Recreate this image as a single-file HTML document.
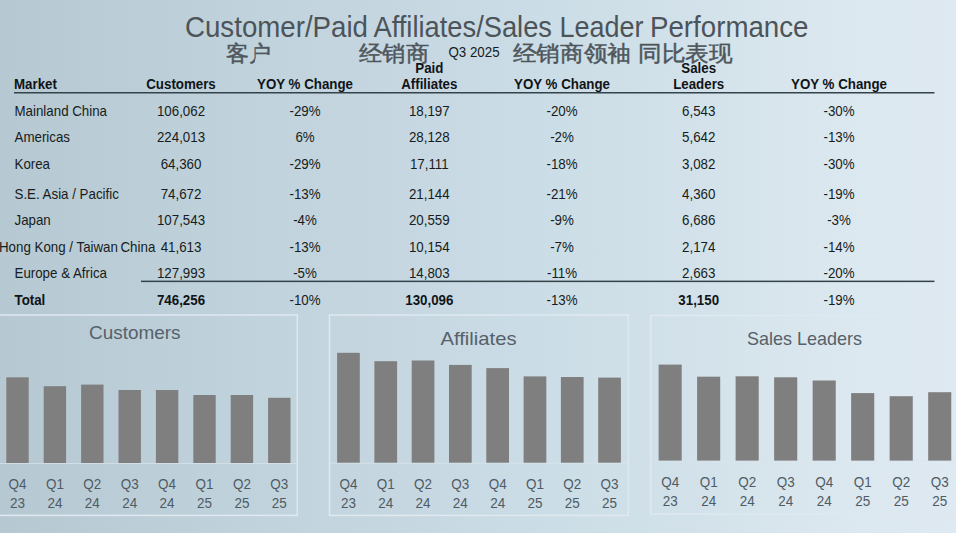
<!DOCTYPE html>
<html><head><meta charset="utf-8"><style>
html,body{margin:0;padding:0;width:956px;height:533px;overflow:hidden;}
body{background:linear-gradient(to right,#b6c8d2 0%,#bacdd6 10.5%,#c0d2dc 26%,#c6d7e1 42%,#cbdde6 57.5%,#d3e2ea 73%,#dce8f0 89%,#dee9f1 100%);}
svg{position:absolute;left:0;top:0;font-family:"Liberation Sans", sans-serif;}
</style></head><body>
<svg width="956" height="533" viewBox="0 0 956 533">
<text x="185.0" y="37" font-size="29" fill="#4c5459" textLength="183.0" lengthAdjust="spacingAndGlyphs">Customer/Paid</text>
<text x="373.5" y="37" font-size="29" fill="#4c5459" textLength="178.5" lengthAdjust="spacingAndGlyphs">Affiliates/Sales</text>
<text x="559.5" y="37" font-size="29" fill="#4c5459" textLength="84.0" lengthAdjust="spacingAndGlyphs">Leader</text>
<text x="650.0" y="37" font-size="29" fill="#4c5459" textLength="158.5" lengthAdjust="spacingAndGlyphs">Performance</text>
<text x="225.5" y="61" font-size="21.8" font-weight="500" fill="#4e565c" stroke="#4e565c" stroke-width="0.45" textLength="46" lengthAdjust="spacingAndGlyphs">客户</text>
<text x="359" y="61" font-size="21.8" font-weight="500" fill="#4e565c" stroke="#4e565c" stroke-width="0.45" textLength="70" lengthAdjust="spacingAndGlyphs">经销商</text>
<text x="0" y="0" transform="translate(448.5 56.5) scale(1 1.04)" font-size="13.33" text-anchor="start" fill="#151b20">Q3 2025</text>
<text x="512.5" y="61" font-size="21.8" font-weight="500" fill="#4e565c" stroke="#4e565c" stroke-width="0.45" textLength="118.5" lengthAdjust="spacingAndGlyphs">经销商领袖</text>
<text x="638" y="61" font-size="21.8" font-weight="500" fill="#4e565c" stroke="#4e565c" stroke-width="0.45" textLength="94.5" lengthAdjust="spacingAndGlyphs">同比表现</text>
<text x="0" y="0" transform="translate(14 89) scale(1 1.03)" font-size="13.33" text-anchor="start" font-weight="bold" fill="#111417">Market</text>
<text x="0" y="0" transform="translate(181 89) scale(1 1.03)" font-size="13.33" text-anchor="middle" font-weight="bold" fill="#111417">Customers</text>
<text x="0" y="0" transform="translate(305 89) scale(1 1.03)" font-size="13.33" text-anchor="middle" font-weight="bold" fill="#111417">YOY % Change</text>
<text x="0" y="0" transform="translate(429.3 73) scale(1 1.03)" font-size="13.33" text-anchor="middle" font-weight="bold" fill="#111417">Paid</text>
<text x="0" y="0" transform="translate(429.3 89) scale(1 1.03)" font-size="13.33" text-anchor="middle" font-weight="bold" fill="#111417">Affiliates</text>
<text x="0" y="0" transform="translate(562 89) scale(1 1.03)" font-size="13.33" text-anchor="middle" font-weight="bold" fill="#111417">YOY % Change</text>
<text x="0" y="0" transform="translate(698.7 73) scale(1 1.03)" font-size="13.33" text-anchor="middle" font-weight="bold" fill="#111417">Sales</text>
<text x="0" y="0" transform="translate(698.7 89) scale(1 1.03)" font-size="13.33" text-anchor="middle" font-weight="bold" fill="#111417">Leaders</text>
<text x="0" y="0" transform="translate(839 89) scale(1 1.03)" font-size="13.33" text-anchor="middle" font-weight="bold" fill="#111417">YOY % Change</text>
<rect x="14" y="92" width="920.5" height="1.5" fill="#34424a"/>
<text x="0" y="0" transform="translate(14.5 115.5) scale(1 1.03)" font-size="13.33" text-anchor="start" fill="#171c20">Mainland China</text>
<text x="0" y="0" transform="translate(181 115.5) scale(1 1.03)" font-size="13.33" text-anchor="middle" fill="#171c20">106,062</text>
<text x="0" y="0" transform="translate(305 115.5) scale(1 1.03)" font-size="13.33" text-anchor="middle" fill="#171c20">-29%</text>
<text x="0" y="0" transform="translate(429.3 115.5) scale(1 1.03)" font-size="13.33" text-anchor="middle" fill="#171c20">18,197</text>
<text x="0" y="0" transform="translate(562 115.5) scale(1 1.03)" font-size="13.33" text-anchor="middle" fill="#171c20">-20%</text>
<text x="0" y="0" transform="translate(698.7 115.5) scale(1 1.03)" font-size="13.33" text-anchor="middle" fill="#171c20">6,543</text>
<text x="0" y="0" transform="translate(839 115.5) scale(1 1.03)" font-size="13.33" text-anchor="middle" fill="#171c20">-30%</text>
<text x="0" y="0" transform="translate(14.5 142.3) scale(1 1.03)" font-size="13.33" text-anchor="start" fill="#171c20">Americas</text>
<text x="0" y="0" transform="translate(181 142.3) scale(1 1.03)" font-size="13.33" text-anchor="middle" fill="#171c20">224,013</text>
<text x="0" y="0" transform="translate(305 142.3) scale(1 1.03)" font-size="13.33" text-anchor="middle" fill="#171c20">6%</text>
<text x="0" y="0" transform="translate(429.3 142.3) scale(1 1.03)" font-size="13.33" text-anchor="middle" fill="#171c20">28,128</text>
<text x="0" y="0" transform="translate(562 142.3) scale(1 1.03)" font-size="13.33" text-anchor="middle" fill="#171c20">-2%</text>
<text x="0" y="0" transform="translate(698.7 142.3) scale(1 1.03)" font-size="13.33" text-anchor="middle" fill="#171c20">5,642</text>
<text x="0" y="0" transform="translate(839 142.3) scale(1 1.03)" font-size="13.33" text-anchor="middle" fill="#171c20">-13%</text>
<text x="0" y="0" transform="translate(14.5 168.6) scale(1 1.03)" font-size="13.33" text-anchor="start" fill="#171c20">Korea</text>
<text x="0" y="0" transform="translate(181 168.6) scale(1 1.03)" font-size="13.33" text-anchor="middle" fill="#171c20">64,360</text>
<text x="0" y="0" transform="translate(305 168.6) scale(1 1.03)" font-size="13.33" text-anchor="middle" fill="#171c20">-29%</text>
<text x="0" y="0" transform="translate(429.3 168.6) scale(1 1.03)" font-size="13.33" text-anchor="middle" fill="#171c20">17,111</text>
<text x="0" y="0" transform="translate(562 168.6) scale(1 1.03)" font-size="13.33" text-anchor="middle" fill="#171c20">-18%</text>
<text x="0" y="0" transform="translate(698.7 168.6) scale(1 1.03)" font-size="13.33" text-anchor="middle" fill="#171c20">3,082</text>
<text x="0" y="0" transform="translate(839 168.6) scale(1 1.03)" font-size="13.33" text-anchor="middle" fill="#171c20">-30%</text>
<text x="0" y="0" transform="translate(14.5 198.7) scale(1 1.03)" font-size="13.33" text-anchor="start" fill="#171c20">S.E. Asia / Pacific</text>
<text x="0" y="0" transform="translate(181 198.7) scale(1 1.03)" font-size="13.33" text-anchor="middle" fill="#171c20">74,672</text>
<text x="0" y="0" transform="translate(305 198.7) scale(1 1.03)" font-size="13.33" text-anchor="middle" fill="#171c20">-13%</text>
<text x="0" y="0" transform="translate(429.3 198.7) scale(1 1.03)" font-size="13.33" text-anchor="middle" fill="#171c20">21,144</text>
<text x="0" y="0" transform="translate(562 198.7) scale(1 1.03)" font-size="13.33" text-anchor="middle" fill="#171c20">-21%</text>
<text x="0" y="0" transform="translate(698.7 198.7) scale(1 1.03)" font-size="13.33" text-anchor="middle" fill="#171c20">4,360</text>
<text x="0" y="0" transform="translate(839 198.7) scale(1 1.03)" font-size="13.33" text-anchor="middle" fill="#171c20">-19%</text>
<text x="0" y="0" transform="translate(14.5 225.4) scale(1 1.03)" font-size="13.33" text-anchor="start" fill="#171c20">Japan</text>
<text x="0" y="0" transform="translate(181 225.4) scale(1 1.03)" font-size="13.33" text-anchor="middle" fill="#171c20">107,543</text>
<text x="0" y="0" transform="translate(305 225.4) scale(1 1.03)" font-size="13.33" text-anchor="middle" fill="#171c20">-4%</text>
<text x="0" y="0" transform="translate(429.3 225.4) scale(1 1.03)" font-size="13.33" text-anchor="middle" fill="#171c20">20,559</text>
<text x="0" y="0" transform="translate(562 225.4) scale(1 1.03)" font-size="13.33" text-anchor="middle" fill="#171c20">-9%</text>
<text x="0" y="0" transform="translate(698.7 225.4) scale(1 1.03)" font-size="13.33" text-anchor="middle" fill="#171c20">6,686</text>
<text x="0" y="0" transform="translate(839 225.4) scale(1 1.03)" font-size="13.33" text-anchor="middle" fill="#171c20">-3%</text>
<text x="0" y="0" transform="translate(-1 251.5) scale(1 1.03)" font-size="13.33" text-anchor="start" fill="#171c20">Hong Kong / Taiwan</text>
<text x="0" y="0" transform="translate(120.5 251.5) scale(1 1.03)" font-size="13.33" text-anchor="start" fill="#171c20">China</text>
<text x="0" y="0" transform="translate(181 251.5) scale(1 1.03)" font-size="13.33" text-anchor="middle" fill="#171c20">41,613</text>
<text x="0" y="0" transform="translate(305 251.5) scale(1 1.03)" font-size="13.33" text-anchor="middle" fill="#171c20">-13%</text>
<text x="0" y="0" transform="translate(429.3 251.5) scale(1 1.03)" font-size="13.33" text-anchor="middle" fill="#171c20">10,154</text>
<text x="0" y="0" transform="translate(562 251.5) scale(1 1.03)" font-size="13.33" text-anchor="middle" fill="#171c20">-7%</text>
<text x="0" y="0" transform="translate(698.7 251.5) scale(1 1.03)" font-size="13.33" text-anchor="middle" fill="#171c20">2,174</text>
<text x="0" y="0" transform="translate(839 251.5) scale(1 1.03)" font-size="13.33" text-anchor="middle" fill="#171c20">-14%</text>
<text x="0" y="0" transform="translate(14.5 278.3) scale(1 1.03)" font-size="13.33" text-anchor="start" fill="#171c20">Europe &amp; Africa</text>
<text x="0" y="0" transform="translate(181 278.3) scale(1 1.03)" font-size="13.33" text-anchor="middle" fill="#171c20">127,993</text>
<text x="0" y="0" transform="translate(305 278.3) scale(1 1.03)" font-size="13.33" text-anchor="middle" fill="#171c20">-5%</text>
<text x="0" y="0" transform="translate(429.3 278.3) scale(1 1.03)" font-size="13.33" text-anchor="middle" fill="#171c20">14,803</text>
<text x="0" y="0" transform="translate(562 278.3) scale(1 1.03)" font-size="13.33" text-anchor="middle" fill="#171c20">-11%</text>
<text x="0" y="0" transform="translate(698.7 278.3) scale(1 1.03)" font-size="13.33" text-anchor="middle" fill="#171c20">2,663</text>
<text x="0" y="0" transform="translate(839 278.3) scale(1 1.03)" font-size="13.33" text-anchor="middle" fill="#171c20">-20%</text>
<rect x="141" y="280.6" width="793.5" height="1.5" fill="#34424a"/>
<text x="0" y="0" transform="translate(14.5 304.8) scale(1 1.03)" font-size="13.33" text-anchor="start" font-weight="bold" fill="#111417">Total</text>
<text x="0" y="0" transform="translate(181 304.8) scale(1 1.03)" font-size="13.33" text-anchor="middle" font-weight="bold" fill="#111417">746,256</text>
<text x="0" y="0" transform="translate(305 304.8) scale(1 1.03)" font-size="13.33" text-anchor="middle" fill="#171c20">-10%</text>
<text x="0" y="0" transform="translate(429.3 304.8) scale(1 1.03)" font-size="13.33" text-anchor="middle" font-weight="bold" fill="#111417">130,096</text>
<text x="0" y="0" transform="translate(562 304.8) scale(1 1.03)" font-size="13.33" text-anchor="middle" fill="#171c20">-13%</text>
<text x="0" y="0" transform="translate(698.7 304.8) scale(1 1.03)" font-size="13.33" text-anchor="middle" font-weight="bold" fill="#111417">31,150</text>
<text x="0" y="0" transform="translate(839 304.8) scale(1 1.03)" font-size="13.33" text-anchor="middle" fill="#171c20">-19%</text>
<rect x="-5" y="315" width="302.3" height="200.39999999999998" fill="none" stroke="#dfe9ef" stroke-width="1.5"/>
<rect x="329.5" y="315" width="298.79999999999995" height="200.39999999999998" fill="none" stroke="#dfe9ef" stroke-width="1.5"/>
<rect x="650.8" y="315.5" width="319.20000000000005" height="198.60000000000002" fill="none" stroke="#dfe9ef" stroke-width="1.5"/>
<rect x="0" y="463" width="296.5" height="1" fill="#dbe6ec" opacity="0.7"/>
<rect x="6.30" y="377.30" width="22.40" height="85.70" fill="#7f7f7f"/>
<text x="0" y="0" transform="translate(17.50 488.5) scale(0.93 1)" font-size="14.5" text-anchor="middle" fill="#4f5b64">Q4</text>
<text x="0" y="0" transform="translate(17.50 508) scale(0.93 1)" font-size="14.5" text-anchor="middle" fill="#4f5b64">23</text>
<rect x="43.70" y="386.20" width="22.40" height="76.80" fill="#7f7f7f"/>
<text x="0" y="0" transform="translate(54.90 488.5) scale(0.93 1)" font-size="14.5" text-anchor="middle" fill="#4f5b64">Q1</text>
<text x="0" y="0" transform="translate(54.90 508) scale(0.93 1)" font-size="14.5" text-anchor="middle" fill="#4f5b64">24</text>
<rect x="81.10" y="384.60" width="22.40" height="78.40" fill="#7f7f7f"/>
<text x="0" y="0" transform="translate(92.30 488.5) scale(0.93 1)" font-size="14.5" text-anchor="middle" fill="#4f5b64">Q2</text>
<text x="0" y="0" transform="translate(92.30 508) scale(0.93 1)" font-size="14.5" text-anchor="middle" fill="#4f5b64">24</text>
<rect x="118.50" y="390.00" width="22.40" height="73.00" fill="#7f7f7f"/>
<text x="0" y="0" transform="translate(129.70 488.5) scale(0.93 1)" font-size="14.5" text-anchor="middle" fill="#4f5b64">Q3</text>
<text x="0" y="0" transform="translate(129.70 508) scale(0.93 1)" font-size="14.5" text-anchor="middle" fill="#4f5b64">24</text>
<rect x="155.90" y="390.00" width="22.40" height="73.00" fill="#7f7f7f"/>
<text x="0" y="0" transform="translate(167.10 488.5) scale(0.93 1)" font-size="14.5" text-anchor="middle" fill="#4f5b64">Q4</text>
<text x="0" y="0" transform="translate(167.10 508) scale(0.93 1)" font-size="14.5" text-anchor="middle" fill="#4f5b64">24</text>
<rect x="193.30" y="395.00" width="22.40" height="68.00" fill="#7f7f7f"/>
<text x="0" y="0" transform="translate(204.50 488.5) scale(0.93 1)" font-size="14.5" text-anchor="middle" fill="#4f5b64">Q1</text>
<text x="0" y="0" transform="translate(204.50 508) scale(0.93 1)" font-size="14.5" text-anchor="middle" fill="#4f5b64">25</text>
<rect x="230.70" y="395.00" width="22.40" height="68.00" fill="#7f7f7f"/>
<text x="0" y="0" transform="translate(241.90 488.5) scale(0.93 1)" font-size="14.5" text-anchor="middle" fill="#4f5b64">Q2</text>
<text x="0" y="0" transform="translate(241.90 508) scale(0.93 1)" font-size="14.5" text-anchor="middle" fill="#4f5b64">25</text>
<rect x="268.10" y="397.80" width="22.40" height="65.20" fill="#7f7f7f"/>
<text x="0" y="0" transform="translate(279.30 488.5) scale(0.93 1)" font-size="14.5" text-anchor="middle" fill="#4f5b64">Q3</text>
<text x="0" y="0" transform="translate(279.30 508) scale(0.93 1)" font-size="14.5" text-anchor="middle" fill="#4f5b64">25</text>
<rect x="330.5" y="462.7" width="297.0" height="1" fill="#dbe6ec" opacity="0.7"/>
<rect x="337.10" y="352.80" width="22.70" height="109.90" fill="#7f7f7f"/>
<text x="0" y="0" transform="translate(348.45 488.8) scale(0.93 1)" font-size="14.5" text-anchor="middle" fill="#4f5b64">Q4</text>
<text x="0" y="0" transform="translate(348.45 508) scale(0.93 1)" font-size="14.5" text-anchor="middle" fill="#4f5b64">23</text>
<rect x="374.40" y="361.20" width="22.70" height="101.50" fill="#7f7f7f"/>
<text x="0" y="0" transform="translate(385.75 488.8) scale(0.93 1)" font-size="14.5" text-anchor="middle" fill="#4f5b64">Q1</text>
<text x="0" y="0" transform="translate(385.75 508) scale(0.93 1)" font-size="14.5" text-anchor="middle" fill="#4f5b64">24</text>
<rect x="411.70" y="360.50" width="22.70" height="102.20" fill="#7f7f7f"/>
<text x="0" y="0" transform="translate(423.05 488.8) scale(0.93 1)" font-size="14.5" text-anchor="middle" fill="#4f5b64">Q2</text>
<text x="0" y="0" transform="translate(423.05 508) scale(0.93 1)" font-size="14.5" text-anchor="middle" fill="#4f5b64">24</text>
<rect x="449.00" y="364.90" width="22.70" height="97.80" fill="#7f7f7f"/>
<text x="0" y="0" transform="translate(460.35 488.8) scale(0.93 1)" font-size="14.5" text-anchor="middle" fill="#4f5b64">Q3</text>
<text x="0" y="0" transform="translate(460.35 508) scale(0.93 1)" font-size="14.5" text-anchor="middle" fill="#4f5b64">24</text>
<rect x="486.30" y="368.10" width="22.70" height="94.60" fill="#7f7f7f"/>
<text x="0" y="0" transform="translate(497.65 488.8) scale(0.93 1)" font-size="14.5" text-anchor="middle" fill="#4f5b64">Q4</text>
<text x="0" y="0" transform="translate(497.65 508) scale(0.93 1)" font-size="14.5" text-anchor="middle" fill="#4f5b64">24</text>
<rect x="523.60" y="376.40" width="22.70" height="86.30" fill="#7f7f7f"/>
<text x="0" y="0" transform="translate(534.95 488.8) scale(0.93 1)" font-size="14.5" text-anchor="middle" fill="#4f5b64">Q1</text>
<text x="0" y="0" transform="translate(534.95 508) scale(0.93 1)" font-size="14.5" text-anchor="middle" fill="#4f5b64">25</text>
<rect x="560.90" y="377.00" width="22.70" height="85.70" fill="#7f7f7f"/>
<text x="0" y="0" transform="translate(572.25 488.8) scale(0.93 1)" font-size="14.5" text-anchor="middle" fill="#4f5b64">Q2</text>
<text x="0" y="0" transform="translate(572.25 508) scale(0.93 1)" font-size="14.5" text-anchor="middle" fill="#4f5b64">25</text>
<rect x="598.20" y="377.60" width="22.70" height="85.10" fill="#7f7f7f"/>
<text x="0" y="0" transform="translate(609.55 488.8) scale(0.93 1)" font-size="14.5" text-anchor="middle" fill="#4f5b64">Q3</text>
<text x="0" y="0" transform="translate(609.55 508) scale(0.93 1)" font-size="14.5" text-anchor="middle" fill="#4f5b64">25</text>
<rect x="651.5" y="460.6" width="304.5" height="1" fill="#dbe6ec" opacity="0.7"/>
<rect x="658.60" y="364.60" width="23.10" height="96.00" fill="#7f7f7f"/>
<text x="0" y="0" transform="translate(670.15 486.7) scale(0.93 1)" font-size="14.5" text-anchor="middle" fill="#4f5b64">Q4</text>
<text x="0" y="0" transform="translate(670.15 506.3) scale(0.93 1)" font-size="14.5" text-anchor="middle" fill="#4f5b64">23</text>
<rect x="697.11" y="376.70" width="23.10" height="83.90" fill="#7f7f7f"/>
<text x="0" y="0" transform="translate(708.66 486.7) scale(0.93 1)" font-size="14.5" text-anchor="middle" fill="#4f5b64">Q1</text>
<text x="0" y="0" transform="translate(708.66 506.3) scale(0.93 1)" font-size="14.5" text-anchor="middle" fill="#4f5b64">24</text>
<rect x="735.62" y="376.30" width="23.10" height="84.30" fill="#7f7f7f"/>
<text x="0" y="0" transform="translate(747.17 486.7) scale(0.93 1)" font-size="14.5" text-anchor="middle" fill="#4f5b64">Q2</text>
<text x="0" y="0" transform="translate(747.17 506.3) scale(0.93 1)" font-size="14.5" text-anchor="middle" fill="#4f5b64">24</text>
<rect x="774.13" y="377.30" width="23.10" height="83.30" fill="#7f7f7f"/>
<text x="0" y="0" transform="translate(785.68 486.7) scale(0.93 1)" font-size="14.5" text-anchor="middle" fill="#4f5b64">Q3</text>
<text x="0" y="0" transform="translate(785.68 506.3) scale(0.93 1)" font-size="14.5" text-anchor="middle" fill="#4f5b64">24</text>
<rect x="812.64" y="380.50" width="23.10" height="80.10" fill="#7f7f7f"/>
<text x="0" y="0" transform="translate(824.19 486.7) scale(0.93 1)" font-size="14.5" text-anchor="middle" fill="#4f5b64">Q4</text>
<text x="0" y="0" transform="translate(824.19 506.3) scale(0.93 1)" font-size="14.5" text-anchor="middle" fill="#4f5b64">24</text>
<rect x="851.15" y="393.10" width="23.10" height="67.50" fill="#7f7f7f"/>
<text x="0" y="0" transform="translate(862.70 486.7) scale(0.93 1)" font-size="14.5" text-anchor="middle" fill="#4f5b64">Q1</text>
<text x="0" y="0" transform="translate(862.70 506.3) scale(0.93 1)" font-size="14.5" text-anchor="middle" fill="#4f5b64">25</text>
<rect x="889.66" y="396.20" width="23.10" height="64.40" fill="#7f7f7f"/>
<text x="0" y="0" transform="translate(901.21 486.7) scale(0.93 1)" font-size="14.5" text-anchor="middle" fill="#4f5b64">Q2</text>
<text x="0" y="0" transform="translate(901.21 506.3) scale(0.93 1)" font-size="14.5" text-anchor="middle" fill="#4f5b64">25</text>
<rect x="928.17" y="392.20" width="23.10" height="68.40" fill="#7f7f7f"/>
<text x="0" y="0" transform="translate(939.72 486.7) scale(0.93 1)" font-size="14.5" text-anchor="middle" fill="#4f5b64">Q3</text>
<text x="0" y="0" transform="translate(939.72 506.3) scale(0.93 1)" font-size="14.5" text-anchor="middle" fill="#4f5b64">25</text>
<text x="89" y="339" font-size="19" fill="#56616a" textLength="91.5" lengthAdjust="spacingAndGlyphs">Customers</text>
<text x="440.5" y="345" font-size="18.5" fill="#56616a" textLength="76" lengthAdjust="spacingAndGlyphs">Affiliates</text>
<text x="747" y="345" font-size="18.5" fill="#56616a" textLength="115" lengthAdjust="spacingAndGlyphs">Sales Leaders</text>
</svg>
</body></html>
